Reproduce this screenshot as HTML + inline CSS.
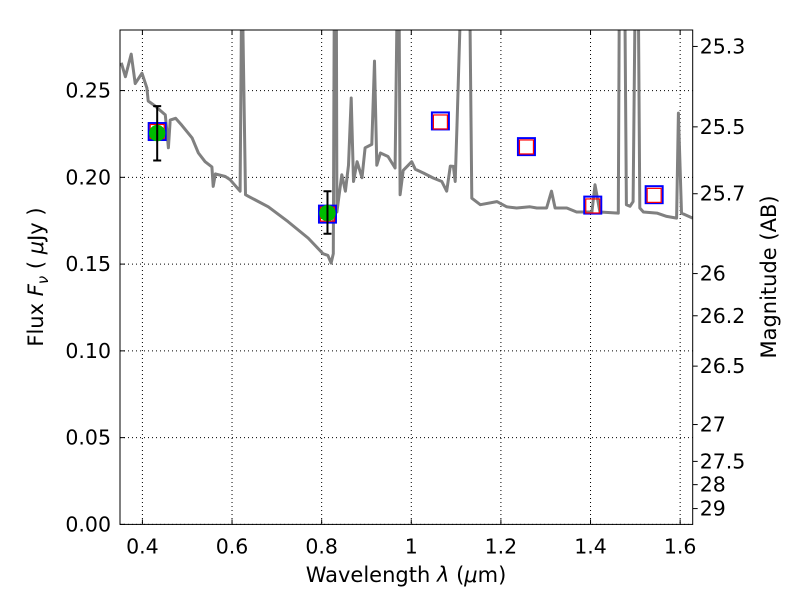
<!DOCTYPE html>
<html><head><meta charset="utf-8"><style>
html,body{margin:0;padding:0;background:#fff}
svg{display:block;font-family:"DejaVu Sans","Liberation Sans",sans-serif}
</style></head><body>
<svg id="chart" width="800" height="600" viewBox="0 0 800 600">
<rect width="800" height="600" fill="#fff"/>
<defs><clipPath id="clip"><rect x="120" y="30" width="572.7" height="494.4"/></clipPath></defs>
<g id="grid"></g>
<g id="spec" clip-path="url(#clip)"></g>
<g id="marks"></g>
<rect x="120" y="30" width="572.7" height="494.4" fill="none" stroke="#000" stroke-width="1"/>
<g id="axes" font-size="20.5" fill="#000"></g>
<text x="406" y="582" text-anchor="middle" font-size="21">Wavelength  <tspan font-style="italic">λ</tspan> (<tspan font-style="italic">μ</tspan>m)</text>
<text transform="translate(43,277) rotate(-90)" text-anchor="middle" font-size="21">Flux  <tspan font-style="italic">F</tspan><tspan font-style="italic" font-size="15" dy="5">ν</tspan><tspan dy="-5">  ( </tspan><tspan font-style="italic">μ</tspan>Jy )</text>
<text transform="translate(776,277) rotate(-90)" text-anchor="middle" font-size="21">Magnitude (AB)</text>
</svg>
<script>
const specLam=[0.353,0.362,0.375,0.384,0.399,0.410,0.413,0.429,0.451,0.458,0.462,0.474,0.488,0.511,0.525,0.540,0.555,0.558,0.563,0.585,0.596,0.618,0.621,0.624,0.630,0.637,0.681,0.725,0.770,0.803,0.814,0.821,0.826,0.828,0.833,0.834,0.845,0.853,0.860,0.866,0.871,0.879,0.890,0.897,0.912,0.918,0.923,0.931,0.948,0.964,0.968,0.973,0.975,0.982,1.001,1.009,1.027,1.049,1.068,1.079,1.087,1.094,1.098,1.102,1.109,1.131,1.135,1.154,1.191,1.213,1.235,1.265,1.280,1.302,1.313,1.321,1.347,1.369,1.403,1.410,1.421,1.462,1.464,1.477,1.480,1.488,1.495,1.499,1.507,1.510,1.518,1.548,1.570,1.592,1.596,1.603,1.628];
const specFlux=[0.266,0.258,0.271,0.254,0.260,0.2515,0.244,0.241,0.236,0.217,0.233,0.234,0.230,0.2227,0.214,0.209,0.206,0.1948,0.202,0.2005,0.1986,0.192,0.29,0.29,0.19,0.189,0.183,0.1745,0.165,0.156,0.155,0.1506,0.156,0.29,0.29,0.180,0.2015,0.192,0.207,0.2457,0.1976,0.209,0.1998,0.217,0.219,0.267,0.207,0.214,0.212,0.2054,0.29,0.29,0.190,0.204,0.209,0.2046,0.2025,0.1996,0.1976,0.192,0.2065,0.2063,0.1976,0.230,0.29,0.29,0.188,0.1842,0.186,0.183,0.1823,0.183,0.1823,0.1823,0.192,0.1823,0.1823,0.180,0.180,0.1957,0.180,0.1794,0.29,0.29,0.1842,0.1833,0.186,0.29,0.29,0.1823,0.180,0.1794,0.1775,0.1765,0.237,0.1794,0.1765];
const obsLam=[0.433,0.813];
const obsFlux=[0.2255,0.1794];
const obsLo=[0.2097,0.1675];
const obsHi=[0.241,0.192];
const modLam=[0.433,0.813,1.065,1.257,1.405,1.542];
const modFlux=[0.2264,0.1788,0.2325,0.2177,0.184,0.190];
const redFlux=[0.2264,0.1788,0.2319,0.2175,0.1835,0.1896];
const xTicks=[0.4,0.6,0.8,1.0,1.2,1.4,1.6];
const xTickLabels=["0.4","0.6","0.8","1","1.2","1.4","1.6"];
const yTicks=[0,0.05,0.10,0.15,0.20,0.25];
const yTickLabels=["0.00","0.05","0.10","0.15","0.20","0.25"];
const magTicks=[25.3,25.5,25.7,26,26.2,26.5,27,27.5,28,29];
const magTickLabels=["25.3","25.5","25.7","26","26.2","26.5","27","27.5","28","29"];

const NS="http://www.w3.org/2000/svg";
const X0=120,X1=692.7,Y0=524.4,Y1=30;
const xMin=0.35,xMax=1.628,yMin=0,yMax=0.2849;
const xs=v=>X0+(v-xMin)/(xMax-xMin)*(X1-X0);
const ys=v=>Y0-(v-yMin)/(yMax-yMin)*(Y0-Y1);
const magToFlux=m=>Math.pow(10,(23.9-m)/2.5);
function mk(tag,attrs,parent){const e=document.createElementNS(NS,tag);for(const k in attrs)e.setAttribute(k,attrs[k]);parent.appendChild(e);return e;}
const grid=document.getElementById('grid'),spec=document.getElementById('spec'),marks=document.getElementById('marks'),axes=document.getElementById('axes');

xTicks.forEach((t,i)=>{
  const x=xs(t);
  const g=mk('line',{x1:x,x2:x,y1:Y1,y2:Y0,stroke:'#000','stroke-width':1,'stroke-dasharray':'1,3'},grid);
  
  
  mk('line',{x1:x,x2:x,y1:Y0,y2:Y0-5,stroke:'#000'},axes);
  mk('line',{x1:x,x2:x,y1:Y1,y2:Y1+5,stroke:'#000'},axes);
  const l=mk('text',{x:x,y:Y0+29,'text-anchor':'middle'},axes);l.textContent=xTickLabels[i];
  
  
});
yTicks.forEach((t,i)=>{
  const y=ys(t);
  const g=mk('line',{x1:X0,x2:X1,y1:y,y2:y,stroke:'#000','stroke-width':1,'stroke-dasharray':'1,3'},grid);
  
  
  mk('line',{x1:X0,x2:X0+5,y1:y,y2:y,stroke:'#000'},axes);
  const l=mk('text',{x:X0-9,y:y+7,'text-anchor':'end'},axes);l.textContent=yTickLabels[i];
  
  
});
magTicks.forEach((m,i)=>{
  const y=ys(magToFlux(m));
  mk('line',{x1:X1,x2:X1+5,y1:y,y2:y,stroke:'#000'},axes);
  const l=mk('text',{x:X1+7,y:y+7,'text-anchor':'start'},axes);l.textContent=magTickLabels[i];
  
  
});

const pts=specLam.map((l,i)=>xs(l).toFixed(1)+','+ys(specFlux[i]).toFixed(1)).join(' ');
const pl=mk('polyline',{points:pts,fill:'none',stroke:'#808080','stroke-width':3,'stroke-linejoin':'round'},spec);



modLam.forEach((l,i)=>{
  const x=xs(l),y=ys(modFlux[i]);
  const b=mk('rect',{x:x-8.5,y:y-8.5,width:17,height:17,fill:'none',stroke:'#0000ff','stroke-width':2},marks);
  
  
  const yr=ys(redFlux[i]);
  const r=mk('rect',{x:x-7,y:yr-7,width:14,height:14,fill:'none',stroke:'#ff0000','stroke-width':1.2},marks);
  
  
});
obsLam.forEach((l,i)=>{
  const x=xs(l);
  const c=mk('circle',{cx:x,cy:ys(obsFlux[i]),r:8.2,fill:'#00bb00'},marks);
  
  
  const e=mk('path',{d:`M${x},${ys(obsLo[i])}V${ys(obsHi[i])}M${x-4},${ys(obsLo[i])}H${x+4}M${x-4},${ys(obsHi[i])}H${x+4}`,stroke:'#000','stroke-width':2,fill:'none'},marks);
  
  
});
</script>
</body></html>
